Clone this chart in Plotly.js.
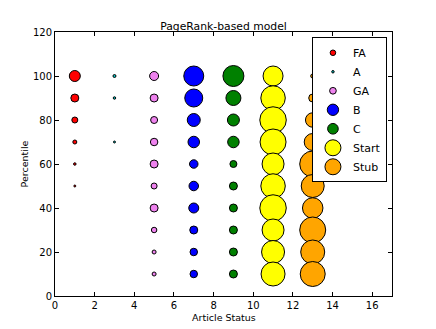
<!DOCTYPE html>
<html>
<head>
<meta charset="utf-8">
<script src="https://cdn.plot.ly/plotly-3.0.1.min.js"></script>
<style>
  html, body { margin: 0; padding: 0; background: #fff; }
  #chart { width: 436px; height: 329px; }
</style>
</head>
<body>
<div id="chart"></div>
<script>
// percentiles on the y axis
var percentiles = [100, 90, 80, 70, 60, 50, 40, 30, 20, 10];

// article status classes, x position of each column
var classes = ["FA", "A", "GA", "B", "C", "Start", "Stub"];
var statusX = [1, 3, 5, 7, 9, 11, 13];

// bubble size (diameter) per percentile, 0 = no point
var faSizes    = [11, 8, 6, 4, 2.5, 2, 0, 0, 0, 0];
var aSizes     = [3, 2.5, 0, 2, 0, 0, 0, 0, 0, 0];
var gaSizes    = [9, 8, 7, 7.5, 8, 6, 8, 5.5, 4, 4];
var bSizes     = [20, 18, 13, 11.5, 8.5, 9.5, 10, 8, 7.5, 7.5];
var cSizes     = [21, 15, 12, 11.5, 7, 8, 8, 8, 8, 8];
var startSizes = [20, 24.5, 26.5, 26, 22, 24.5, 26.5, 22, 23, 24];
var stubSizes  = [4, 8, 14.5, 17, 26, 23, 20.5, 26, 24, 25];

var allSizes = [faSizes, aSizes, gaSizes, bSizes, cSizes, startSizes, stubSizes];
var colors = ["red", "#00bfbf", "violet", "blue", "green", "yellow", "orange"];

var data = [];
for (var i = 0; i < classes.length; i++) {
    var xs = [], ys = [], ss = [];
    for (var j = 0; j < percentiles.length; j++) {
        if (allSizes[i][j] > 0) {
            xs.push(statusX[i]);
            ys.push(percentiles[j]);
            ss.push(allSizes[i][j]);
        }
    }
    data.push({
        x: xs,
        y: ys,
        name: classes[i],
        type: "scatter",
        mode: "markers",
        marker: {
            size: ss,
            color: colors[i],
            opacity: 1,
            line: {color: "black", width: 1}
        }
    });
}

var axisStyle = {
    showline: true,
    linecolor: "black",
    linewidth: 1,
    mirror: "ticks",
    ticks: "inside",
    ticklen: 4,
    tickcolor: "black",
    showgrid: false,
    zeroline: false,
    tickfont: {size: 10, color: "black"}
};

var layout = {
    width: 436,
    height: 329,
    margin: {l: 55, r: 44, t: 32, b: 33},
    paper_bgcolor: "white",
    plot_bgcolor: "white",
    font: {family: "DejaVu Sans", color: "black"},
    title: {
        text: "PageRank-based model",
        font: {size: 10.8},
        x: 0.5,
        xref: "paper",
        y: 1,
        yref: "paper",
        yanchor: "bottom",
        pad: {b: 2}
    },
    xaxis: Object.assign({}, axisStyle, {
        range: [0, 17],
        dtick: 2
    }),
    yaxis: Object.assign({}, axisStyle, {
        range: [0, 120],
        dtick: 20,
        automargin: true,
        title: {text: "Percentile", font: {size: 9.5}, standoff: 2}
    }),
    // x axis title as annotation so it sits close to the tick labels
    annotations: [{
        text: "Article Status",
        xref: "paper",
        yref: "paper",
        x: 0.5,
        y: 0,
        xanchor: "center",
        yanchor: "top",
        yshift: -14,
        showarrow: false,
        font: {size: 9.5}
    }],
    showlegend: true,
    legend: {
        x: 0.985,
        xanchor: "right",
        y: 0.98,
        yanchor: "top",
        bgcolor: "white",
        bordercolor: "black",
        borderwidth: 1,
        itemsizing: "trace",
        itemwidth: 30,
        tracegroupgap: 0,
        font: {size: 11}
    }
};

Plotly.newPlot("chart", data, layout, {staticPlot: true});
</script>
</body>
</html>
